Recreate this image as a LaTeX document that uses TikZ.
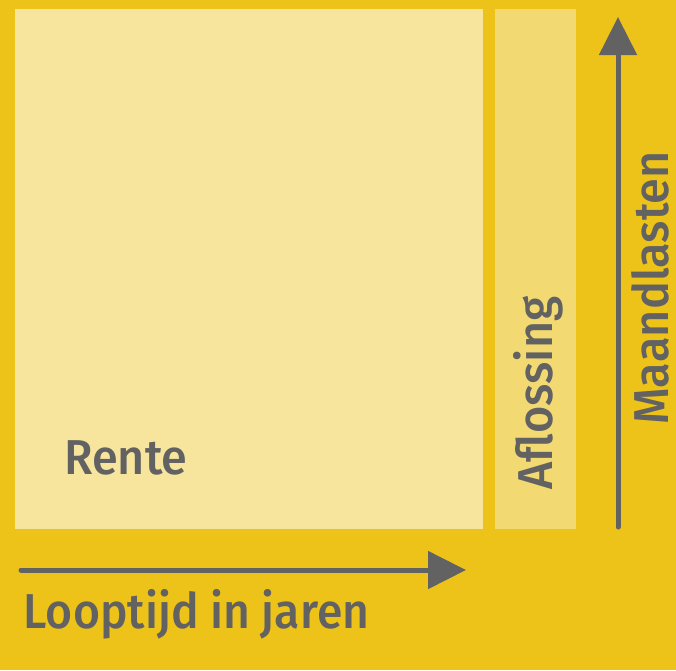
\documentclass[tikz,border=0pt]{standalone}
\usepackage{fontspec}
\IfFontExistsTF{Fira Sans Medium}{\setmainfont{Fira Sans Medium}}{\setmainfont{Fira Sans}}
\usepackage{tikz}
\usetikzlibrary{arrows.meta,positioning}

\definecolor{bgyellow}{HTML}{EDC319}
\definecolor{lightyellow}{HTML}{F7E59E}
\definecolor{midyellow}{HTML}{F3D971}
\definecolor{textgray}{HTML}{626262}

% slightly narrower letters
\newcommand{\narrowtxt}[1]{\scalebox{0.955}[1]{#1}}

\begin{document}
\begin{tikzpicture}[
        x=1pt, y=-1pt,
        block/.style = {inner sep=0pt, outer sep=0pt, anchor=north west},
        label/.style = {inner sep=0pt, text=textgray, font=\fontsize{49}{55}\selectfont},
        axis/.style = {draw=textgray, line width=5pt, line cap=round,
                       -{Triangle[length=38pt, width=37pt]}}
        ]
        \fill[bgyellow] (0,0) rectangle (676,670);
        \useasboundingbox (0,0) rectangle (676,670);

        \node[block, fill=lightyellow, minimum width=468pt, minimum height=520pt] (rente) at (15,9) {};
        \node[block, fill=midyellow, minimum width=81pt, minimum height=520pt] (aflossing) at (495,9) {};

        \node[label, anchor=base] (rentetxt) at (126,474) {\narrowtxt{Rente}};
        \node[label, anchor=base, rotate=90] (aflossingtxt) at (552,393) {\narrowtxt{Aflossing}};
        \node[label, anchor=base, rotate=90] (maandtxt) at (668,288) {\narrowtxt{Maandlasten}};
        \node[label, anchor=base] (looptxt) at (196.5,628) {\scalebox{0.945}[1]{Looptijd in jaren}};

        \coordinate (xstart) at (21,570);
        \coordinate (xend) at (466,570);
        \coordinate (ystart) at (618,527);
        \coordinate (yend) at (618,17);

        \draw[axis] (xstart) -- (xend);
        \draw[axis] (ystart) -- (yend);
    \end{tikzpicture}
\end{document}
